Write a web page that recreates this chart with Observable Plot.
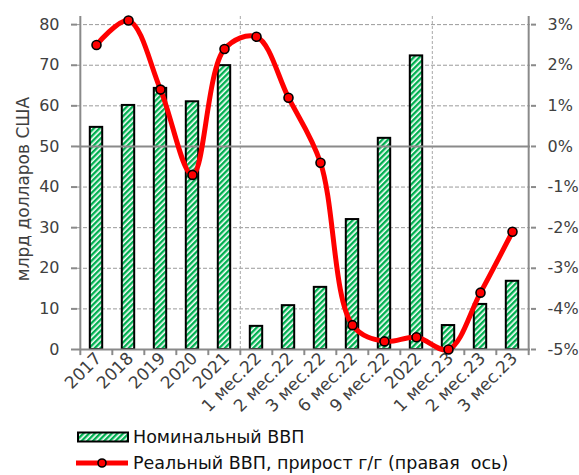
<!DOCTYPE html>
<html><head><meta charset="utf-8">
<script src="https://cdn.jsdelivr.net/npm/d3@7"></script>
<script src="https://cdn.jsdelivr.net/npm/@observablehq/plot@0.6"></script>
<style>
body{margin:0;background:#fff;font-family:"DejaVu Sans",sans-serif;}
#wrap{position:relative;width:579px;height:475px;overflow:hidden;}
.leg{position:absolute;left:74px;display:flex;align-items:center;font-size:17.5px;color:#111;white-space:pre;}
.leg svg{margin-right:3px;}
</style></head><body><div id="wrap"></div>
<script>
const categories = ["2017","2018","2019","2020","2021","1 мес.22","2 мес.22","3 мес.22","6 мес.22","9 мес.22","2022","1 мес.23","2 мес.23","3 мес.23"];
const nominal = [54.7, 60.1, 64.3, 61.0, 69.9, 5.7, 10.8, 15.3, 32.0, 52.0, 72.3, 5.9, 11.1, 16.8];
const realGrowth = [2.5, 3.1, 1.4, -0.7, 2.4, 2.7, 1.2, -0.4, -4.4, -4.8, -4.7, -5.0, -3.6, -2.1];
const leftTicks = [0, 10, 20, 30, 40, 50, 60, 70, 80];
const rightTickLabels = ["-5%", "-4%", "-3%", "-2%", "-1%", "0%", "1%", "2%", "3%"];
const separators = ["1 мес.22", "1 мес.23"];
const yTitle = "млрд долларов США";
const legendBar = "Номинальный ВВП";
const legendLine = "Реальный ВВП, прирост г/г (правая  ось)";

const data = categories.map((c, i) => ({cat: c, nominal: nominal[i], real: realGrowth[i]}));
// right axis (-5%..3%) mapped onto left axis (0..80)
const toLeft = p => (p + 5) * 10;

const W = 579, H = 425, ML = 77, MR = 49, MT = 16, MB = 76;
const step = (W - ML - MR) / categories.length;
const gray = "#8a8a8a";

const plot = Plot.plot({
  width: W, height: H,
  marginLeft: ML, marginRight: MR, marginTop: MT, marginBottom: MB,
  style: {fontFamily: "DejaVu Sans, sans-serif", color: "#404040", background: "#fff", overflow: "visible"},
  x: {type: "band", domain: categories, padding: 0},
  y: {domain: [0, 82]},
  marks: [
    Plot.ruleY(leftTicks.filter(t => t !== 0 && t !== 50), {stroke: "#9a9a9a", strokeDasharray: "4,2", strokeWidth: 1}),
    Plot.ruleX(separators, {x: d => d, dx: -step / 2, stroke: "#a8a8a8", strokeDasharray: "3,2", strokeWidth: 1}),
    Plot.barY(data, {x: "cat", y: "nominal", fill: "url(#hatch)", stroke: "#000", strokeWidth: 2, insetLeft: 9.8, insetRight: 9.8}),
    Plot.ruleY([50], {stroke: gray, strokeWidth: 2}),
    Plot.ruleY([0], {stroke: gray, strokeWidth: 2}),
    Plot.ruleX([categories[0]], {x: d => d, dx: -step / 2, stroke: gray, strokeWidth: 2}),
    Plot.ruleX([categories[categories.length - 1]], {x: d => d, dx: step / 2, stroke: gray, strokeWidth: 2}),
    Plot.ruleX(categories, {x: d => d, dx: -step / 2, y1: 0, y2: -1.5, stroke: gray, strokeWidth: 2}),
    Plot.ruleX([categories[categories.length - 1]], {x: d => d, dx: step / 2, y1: 0, y2: -1.5, stroke: gray, strokeWidth: 2}),
    Plot.axisY({anchor: "left", ticks: leftTicks, tickSize: 6, tickPadding: 12, fontSize: 16, label: null, stroke: gray, strokeWidth: 2}),
    Plot.axisY({anchor: "right", ticks: leftTicks, tickFormat: (d, i) => rightTickLabels[leftTicks.indexOf(d)], tickSize: 5, tickPadding: 12, fontSize: 16, label: null, stroke: gray, strokeWidth: 2}),
    Plot.axisX({anchor: "bottom", tickSize: 0, tickPadding: 6, tickRotate: -45, fontSize: 17, label: null, dx: 2}),
    Plot.text([yTitle], {frameAnchor: "left", textAnchor: "middle", dx: -54, dy: 6, rotate: -90, fontSize: 17, fill: "#404040"}),
    Plot.line(data, {x: "cat", y: d => toLeft(d.real), stroke: "#ff0000", strokeWidth: 5, curve: "catmull-rom"}),
    Plot.dot(data, {x: "cat", y: d => toLeft(d.real), r: 4.5, fill: "#ff0000", stroke: "#000", strokeWidth: 1.6})
  ]
});

const defs = `<defs><pattern id="hatch" patternUnits="userSpaceOnUse" width="4" height="4" patternTransform="rotate(45)">
<rect width="4" height="4" fill="#fff"/><rect width="2.4" height="4" fill="#00b050"/></pattern></defs>`;
d3.select(plot).insert("g", ":first-child").html(defs);

const wrap = document.getElementById("wrap");
wrap.appendChild(plot);

const l1 = document.createElement("div");
l1.className = "leg"; l1.style.top = "427px";
l1.innerHTML = `<svg width="56" height="14"><defs><pattern id="hatch2" patternUnits="userSpaceOnUse" width="4" height="4" patternTransform="rotate(45)"><rect width="4" height="4" fill="#fff"/><rect width="2.4" height="4" fill="#00b050"/></pattern></defs><rect x="4" y="2.5" width="50" height="9" fill="url(#hatch2)" stroke="#000" stroke-width="2"/></svg><span></span>`;
l1.querySelector("span").textContent = legendBar;
wrap.appendChild(l1);

const l2 = document.createElement("div");
l2.className = "leg"; l2.style.top = "453px";
l2.innerHTML = `<svg width="56" height="14"><line x1="2" x2="54" y1="7" y2="7" stroke="#ff0000" stroke-width="5"/><circle cx="28" cy="7" r="4" fill="#ff0000" stroke="#000" stroke-width="1.6"/></svg><span></span>`;
l2.querySelector("span").textContent = legendLine;
wrap.appendChild(l2);
</script>
</body></html>
